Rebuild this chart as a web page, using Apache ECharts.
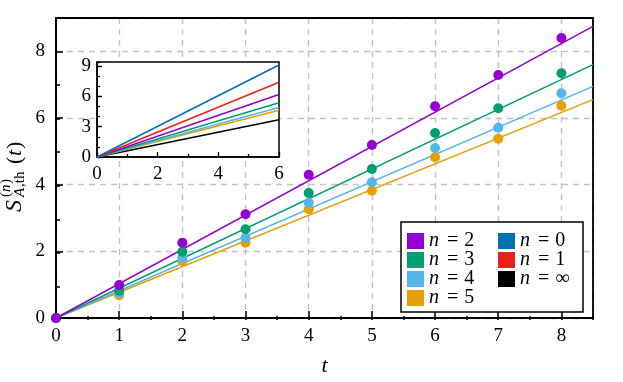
<!DOCTYPE html>
<html>
<head>
<meta charset="utf-8">
<script src="https://cdn.jsdelivr.net/npm/echarts@6/dist/echarts.min.js"></script>
<style>
  html, body { margin: 0; padding: 0; background: #fff; }
  #chart { width: 623px; height: 382px; }
</style>
</head>
<body>
<div id="chart"></div>
<script>
// times of the numerical points
const tValues = [0, 1, 2, 3, 4, 5, 6, 7, 8]
// S_{A,th}^{(n)}(t), numerical points
const dotsN2 = [0, 0.99, 2.26, 3.11, 4.30, 5.19, 6.35, 7.29, 8.40]
const dotsN3 = [0, 0.82, 1.99, 2.66, 3.75, 4.47, 5.55, 6.29, 7.34]
const dotsN4 = [0, 0.75, 1.81, 2.41, 3.46, 4.07, 5.10, 5.71, 6.74]
const dotsN5 = [0, 0.68, 1.71, 2.26, 3.26, 3.82, 4.82, 5.38, 6.37]
// straight lines of the main panel (t = 0 and t = 8.5)
const mainLineT = [0, 8.5]
const mainLineN2 = [0, 8.75]
const mainLineN3 = [0, 7.6]
const mainLineN4 = [0, 6.95]
const mainLineN5 = [0, 6.55]
// straight lines of the inset (t = 0 and t = 6)
const insetLineT = [0, 6]
const insetN0 = [0, 9.1]
const insetN1 = [0, 7.4]
const insetN2 = [0, 6.18]
const insetN3 = [0, 5.36]
const insetN4 = [0, 4.9]
const insetN5 = [0, 4.62]
const insetNinf = [0, 3.68]
// ticks
const mainXTicks = { min: 0, max: 8.5, step: 1 }
const mainYTicks = { min: 0, max: 9, step: 2 }
const insetXTicks = { min: 0, max: 6, step: 2 }
const insetYTicks = { min: 0, max: 9.4, step: 3 }
// legend columns
const legendLeftCol = ['n=2', 'n=3', 'n=4', 'n=5']
const legendRightCol = ['n=0', 'n=1', 'n=∞']

const FONT = '"Liberation Serif", "DejaVu Serif", serif'
const colors = {
  'n=0': '#0072b2',
  'n=1': '#e8221a',
  'n=2': '#9400d3',
  'n=3': '#009e73',
  'n=4': '#56b4e9',
  'n=5': '#e69f00',
  'n=∞': '#000000'
}

function pairs(xs, ys) {
  return xs.map((x, i) => [x, ys[i]])
}

const myChart = echarts.init(document.getElementById('chart'), null, { renderer: 'canvas' })

const lineSeries = (name, xs, ys, grid) => ({
  name: name,
  type: 'line',
  xAxisIndex: grid,
  yAxisIndex: grid,
  data: pairs(xs, ys),
  showSymbol: false,
  silent: true,
  animation: false,
  z: grid === 1 ? 7 : 2,
  itemStyle: { color: colors[name] },
  lineStyle: { color: colors[name], width: 1.5 }
})

const dotSeries = (name, ys) => ({
  name: name,
  type: 'scatter',
  xAxisIndex: 0,
  yAxisIndex: 0,
  data: pairs(tValues, ys),
  symbolSize: 10,
  silent: true,
  animation: false,
  z: 3,
  itemStyle: { color: colors[name], opacity: 1 }
})

const tickLabel = { color: '#000', fontFamily: FONT, fontSize: 19 }

// one legend per row, so the row pitch is exact
const legendText = { fontFamily: FONT, fontSize: 20, color: '#000' }
const legendRow = (name, left, row) => ({
  left: left,
  top: 231 + row * 19,
  data: [name],
  padding: 0,
  itemWidth: 17,
  itemHeight: 16,
  icon: 'rect',
  z: 20,
  selectedMode: false,
  formatter: n => '{i|n}{e|=}{v|' + n.slice(2) + '}',
  textStyle: Object.assign({
    rich: {
      i: Object.assign({ fontStyle: 'italic' }, legendText),
      e: Object.assign({ padding: [0, 6, 0, 8] }, legendText),
      v: Object.assign({}, legendText)
    }
  }, legendText)
})

const labelText = (text, x, y, size, italic) => ({
  type: 'text', x: x, y: y,
  style: {
    text: text,
    font: (italic ? 'italic ' : '') + size + 'px ' + FONT,
    fill: '#000', align: 'left', verticalAlign: 'middle'
  }
})

const option = {
  animation: false,
  backgroundColor: '#fff',
  grid: [
    // main panel
    { left: 56, top: 18, right: 30, bottom: 62, show: true, borderColor: '#000', borderWidth: 1.8, backgroundColor: 'transparent', z: 1 },
    // inset
    { left: 97, top: 62, width: 182, height: 95, show: true, borderColor: '#000', borderWidth: 1.5, backgroundColor: '#fff', z: 5 },
    // minor ticks of the main panel
    { left: 56, top: 18, right: 30, bottom: 62 },
    // minor ticks of the inset
    { left: 97, top: 62, width: 182, height: 95, z: 6 }
  ],
  xAxis: [
    {
      type: 'value', gridIndex: 0,
      min: mainXTicks.min, max: mainXTicks.max, interval: mainXTicks.step,
      name: 't', nameLocation: 'middle', nameGap: 37,
      nameTextStyle: { fontFamily: FONT, fontSize: 22, fontStyle: 'italic', color: '#000' },
      axisLine: { show: true, lineStyle: { color: '#000', width: 1.8 } },
      axisTick: { show: true, inside: true, length: 7, lineStyle: { color: '#000', width: 1.5 } },
      axisLabel: Object.assign({ margin: 9, showMaxLabel: false }, tickLabel),
      splitLine: { show: true, lineStyle: { color: '#c4c4c4', width: 1.4, type: [6, 5] } }
    },
    {
      type: 'value', gridIndex: 1, z: 6,
      min: insetXTicks.min, max: insetXTicks.max, interval: insetXTicks.step,
      axisLine: { show: true, lineStyle: { color: '#000', width: 1.5 } },
      axisTick: { show: true, inside: true, length: 5, lineStyle: { color: '#000', width: 1.3 } },
      minorTick: { show: true, splitNumber: 2, length: 3, lineStyle: { color: '#000', width: 1.3 } },
      axisLabel: Object.assign({ margin: 8 }, tickLabel),
      splitLine: { show: false }
    },
    {
      type: 'value', gridIndex: 2,
      min: mainXTicks.min, max: mainXTicks.max, interval: 0.5,
      axisLine: { show: false },
      axisTick: { show: true, inside: true, length: 4, lineStyle: { color: '#000', width: 1.5 } },
      axisLabel: { show: false },
      splitLine: { show: false }
    },
    {
      type: 'value', gridIndex: 3, z: 6, show: false,
      min: insetXTicks.min, max: insetXTicks.max
    }
  ],
  yAxis: [
    {
      type: 'value', gridIndex: 0,
      min: mainYTicks.min, max: mainYTicks.max, interval: mainYTicks.step,
      axisLine: { show: true, lineStyle: { color: '#000', width: 1.8 } },
      axisTick: { show: true, inside: true, length: 7, lineStyle: { color: '#000', width: 1.5 } },
      axisLabel: Object.assign({ margin: 11, showMaxLabel: false }, tickLabel),
      splitLine: { show: true, lineStyle: { color: '#c4c4c4', width: 1.4, type: [6, 5] } }
    },
    {
      type: 'value', gridIndex: 1, z: 6,
      min: insetYTicks.min, max: insetYTicks.max, interval: insetYTicks.step,
      axisLine: { show: true, lineStyle: { color: '#000', width: 1.5 } },
      axisTick: { show: true, inside: true, length: 5, lineStyle: { color: '#000', width: 1.3 } },
      axisLabel: Object.assign({ margin: 6, showMaxLabel: false }, tickLabel),
      splitLine: { show: false }
    },
    {
      type: 'value', gridIndex: 2,
      min: mainYTicks.min, max: mainYTicks.max, interval: 1,
      axisLine: { show: false },
      axisTick: { show: true, inside: true, length: 4, lineStyle: { color: '#000', width: 1.5 } },
      axisLabel: { show: false },
      splitLine: { show: false }
    },
    {
      type: 'value', gridIndex: 3, z: 6,
      min: insetYTicks.min, max: insetYTicks.max, interval: 1,
      axisLine: { show: false },
      axisTick: { show: true, inside: true, length: 3, lineStyle: { color: '#000', width: 1.3 } },
      axisLabel: { show: false },
      splitLine: { show: false }
    }
  ],
  legend: legendLeftCol.map((n, i) => legendRow(n, 407, i))
    .concat(legendRightCol.map((n, i) => legendRow(n, 498, i))),
  graphic: [
    // legend frame
    {
      type: 'rect', z: 10, silent: true,
      shape: { x: 401, y: 222, width: 182, height: 90 },
      style: { fill: '#fff', stroke: '#000', lineWidth: 1.5 }
    },
    // y axis title S_{A,th}^{(n)}(t), rotated
    {
      type: 'group', x: 14, y: 212, rotation: Math.PI / 2, silent: true,
      children: [
        labelText('S', 0, 1, 24, true),
        labelText('(', 15, -8, 15, false),
        labelText('n', 20, -8, 15, true),
        labelText(')', 28, -8, 15, false),
        labelText('A', 15, 6, 15, true),
        labelText(',th', 25, 6, 15, false),
        labelText('(', 48, 1, 22, false),
        labelText('t', 56, 1, 22, true),
        labelText(')', 63, 1, 22, false)
      ]
    }
  ],
  series: [
    lineSeries('n=5', mainLineT, mainLineN5, 0),
    lineSeries('n=4', mainLineT, mainLineN4, 0),
    lineSeries('n=3', mainLineT, mainLineN3, 0),
    lineSeries('n=2', mainLineT, mainLineN2, 0),
    dotSeries('n=5', dotsN5),
    dotSeries('n=4', dotsN4),
    dotSeries('n=3', dotsN3),
    dotSeries('n=2', dotsN2),
    lineSeries('n=∞', insetLineT, insetNinf, 1),
    lineSeries('n=5', insetLineT, insetN5, 1),
    lineSeries('n=4', insetLineT, insetN4, 1),
    lineSeries('n=3', insetLineT, insetN3, 1),
    lineSeries('n=2', insetLineT, insetN2, 1),
    lineSeries('n=1', insetLineT, insetN1, 1),
    lineSeries('n=0', insetLineT, insetN0, 1)
  ]
}

myChart.setOption(option)
window.addEventListener('resize', () => myChart.resize(), false)
</script>
</body>
</html>
